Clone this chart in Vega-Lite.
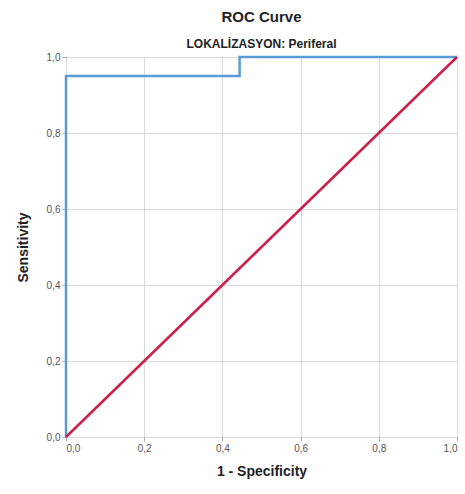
{
  "$schema": "https://vega.github.io/schema/vega-lite/v6.json",
  "width": 391,
  "height": 380,
  "padding": {"left": 16, "top": 10, "right": 9, "bottom": 5},
  "background": "white",
  "title": {
    "text": "ROC Curve",
    "subtitle": "LOKALİZASYON: Periferal",
    "font": "Liberation Sans",
    "fontSize": 15,
    "fontWeight": "bold",
    "color": "#222222",
    "subtitleFont": "Liberation Sans",
    "subtitleFontSize": 12,
    "subtitleFontWeight": "bold",
    "subtitleColor": "#222222",
    "subtitlePadding": 14,
    "offset": 2,
    "anchor": "middle"
  },
  "datasets": {
    "roc": [
      {"fpr": 0, "tpr": 0, "order": 1},
      {"fpr": 0, "tpr": 0.95, "order": 2},
      {"fpr": 0.444, "tpr": 0.95, "order": 3},
      {"fpr": 0.444, "tpr": 1, "order": 4},
      {"fpr": 1, "tpr": 1, "order": 5}
    ],
    "ref": [
      {"fpr": 0, "tpr": 0},
      {"fpr": 1, "tpr": 1}
    ]
  },
  "layer": [
    {
      "data": {"name": "roc"},
      "mark": {"type": "line", "color": "#5b9bd5", "strokeWidth": 2.5},
      "encoding": {
        "x": {
          "field": "fpr", "type": "quantitative",
          "scale": {"domain": [0, 1], "nice": false},
          "axis": {"title": "1 - Specificity", "values": [0, 0.2, 0.4, 0.6, 0.8, 1], "labelExpr": "replace(format(datum.value, '.1f'), '.', ',')"}
        },
        "y": {
          "field": "tpr", "type": "quantitative",
          "scale": {"domain": [0, 1], "nice": false},
          "axis": {"title": "Sensitivity", "values": [0, 0.2, 0.4, 0.6, 0.8, 1], "labelExpr": "replace(format(datum.value, '.1f'), '.', ',')"}
        },
        "order": {"field": "order", "type": "quantitative"}
      }
    },
    {
      "data": {"name": "ref"},
      "mark": {"type": "line", "color": "#cc1f4a", "strokeWidth": 2.5},
      "encoding": {
        "x": {"field": "fpr", "type": "quantitative"},
        "y": {"field": "tpr", "type": "quantitative"}
      }
    }
  ],
  "config": {
    "view": {"stroke": "#aaaaaa", "strokeWidth": 1},
    "axis": {
      "domain": false,
      "grid": true,
      "gridColor": "#d9d9d9",
      "gridWidth": 1,
      "ticks": true,
      "tickColor": "#aaaaaa",
      "tickSize": 4,
      "labelFont": "Liberation Sans",
      "labelFontSize": 10,
      "labelColor": "#555555",
      "titleFont": "Liberation Sans",
      "titleFontSize": 14,
      "titleFontWeight": "bold",
      "titleColor": "#222222"
    },
    "axisX": {"titlePadding": 11, "labelPadding": 2},
    "axisY": {"titlePadding": 16, "labelPadding": 2}
  }
}
